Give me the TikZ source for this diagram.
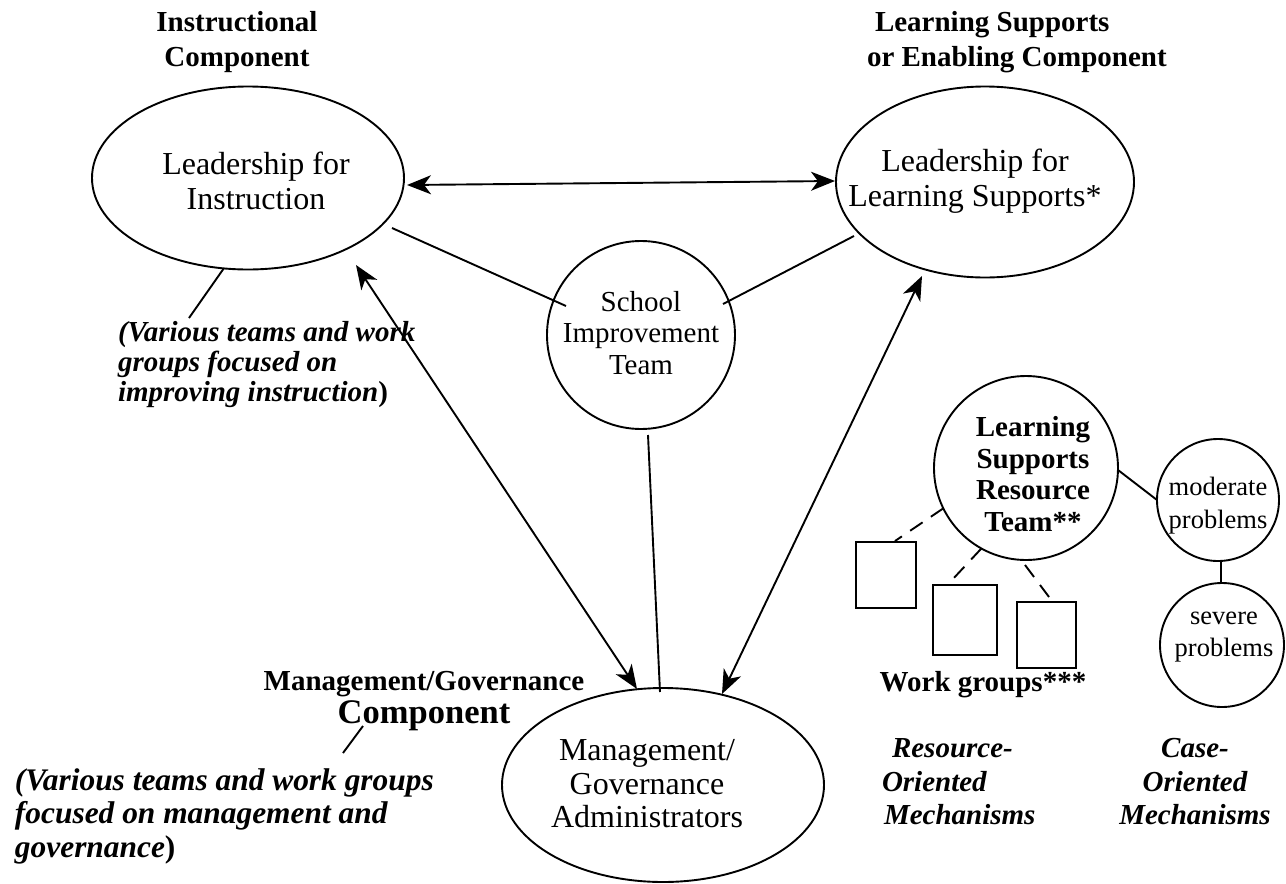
\documentclass[tikz,border=0pt]{standalone}
\usepackage{fontspec}
\setmainfont{Liberation Serif}
\usetikzlibrary{shapes.geometric,arrows.meta,calc}
\newcommand\fsz[2]{\fontsize{#1}{#2}\selectfont}
\begin{document}
\begin{tikzpicture}[x=1pt,y=-1pt,
  every node/.style={inner sep=0pt, outer sep=0pt},
  shapeline/.style={draw, line width=1.9pt},
  ell/.style={shapeline, ellipse},
  conn/.style={line width=1.9pt},
  arr/.style={conn, {Stealth[length=24pt,width=19pt,inset=7pt]}-{Stealth[length=24pt,width=19pt,inset=7pt]}},
  dsh/.style={conn, dash pattern=on 15pt off 10pt},
  txt/.style={align=center},
  lefttxt/.style={align=left, anchor=west}]
\useasboundingbox (0,0) rectangle (1286,884);
% shapes
\node[ell, minimum width=312pt, minimum height=183pt] (instr) at (248,178) {};
\node[ell, minimum width=298pt, minimum height=191pt] (ls) at (985,182) {};
\node[circle, shapeline, minimum size=188pt] (sit) at (641,335) {};
\node[ell, minimum width=322pt, minimum height=194pt] (mg) at (663,785) {};
\node[circle, shapeline, minimum size=184pt] (lsrt) at (1026,468) {};
\node[circle, shapeline, minimum size=122pt] (mod) at (1218,500) {};
\node[circle, shapeline, minimum size=124pt] (sev) at (1222,645) {};
\node[shapeline, minimum width=60pt, minimum height=66pt] (b1) at (886,575) {};
\node[shapeline, minimum width=64pt, minimum height=70pt] (b2) at (965,620) {};
\node[shapeline, minimum width=59pt, minimum height=66pt] (b3) at (1046.5,635) {};
% texts inside shapes
\node[txt, font=\fsz{32}{35}] (instrT) at (256,181) {Leadership for\\Instruction};
\node[txt, font=\fsz{32}{35}] (lsT) at (975,181) {Leadership for\\Learning Supports*};
\node[txt, font=\fsz{29}{31.5}] (sitT) at (641,333) {School\\Improvement\\Team};
\node[txt, font=\fsz{32}{33.5}] (mgT) at (647,784) {Management/\\Governance\\Administrators};
\node[txt, font=\bfseries\fsz{29}{31.5}] (lsrtT) at (1033,474) {Learning\\Supports\\Resource\\Team**};
\node[txt, font=\fsz{26.5}{33}] (modT) at (1218,506) {moderate\\problems};
\node[txt, font=\fsz{26.5}{32}] (sevT) at (1224,637) {severe\\problems};
% headings and notes
\node[txt, font=\bfseries\fsz{29}{35}] (hInstr) at (237,42) {Instructional\\Component};
\node[lefttxt, font=\bfseries\fsz{29}{35}] (hLS) at (867,42) {\hspace*{8pt}Learning Supports\\or Enabling Component};
\node[txt, font=\bfseries\fsz{29}{33}] (hMG) at (424,701) {Management/Governance\\{\fsz{34.5}{33}Component}};
\node[lefttxt, font=\bfseries\itshape\fsz{29}{30}] (instrNote) at (118,365) {(Various teams and work\\groups focused on\\improving instruction{\upshape)}};
\node[lefttxt, font=\bfseries\itshape\fsz{31.4}{33.5}] (mgNote) at (15,816) {(Various teams and work groups\\focused on management and\\governance{\upshape)}};
\node[txt, font=\bfseries\fsz{29}{31}] (wg) at (983,685) {Work groups***};
\node[lefttxt, font=\bfseries\itshape\fsz{29}{33.5}] (rom) at (882,782) {\hspace*{10pt}Resource-\\Oriented\\\hspace*{2pt}Mechanisms};
\node[txt, font=\bfseries\itshape\fsz{29}{33.5}] (com) at (1195,782) {Case-\\Oriented\\Mechanisms};
% leader lines
\coordinate (instrLead) at (189,318);
\draw[conn] (instr.255) -- (instrLead);
\coordinate (mgLeadA) at (363,726);
\coordinate (mgLeadB) at (343,753);
\draw[conn] (mgLeadA) -- (mgLeadB);
% connectors
\draw[conn] ([shift={(144,50)}]instr.center) -- ([shift={(-75,-29)}]sit.center);
\draw[conn] ([shift={(82,-31)}]sit.center) -- ([shift={(-131,54)}]ls.center);
\draw[conn] ([shift={(7,100)}]sit.center) -- ([shift={(-3,-93)}]mg.center);
\draw[arr] ([shift={(159,7)}]instr.center) -- ([shift={(-150,-1)}]ls.center);
\draw[arr] ([shift={(108,87)}]instr.center) -- ([shift={(-26,-96)}]mg.center);
\draw[arr] ([shift={(-63,94)}]ls.center) -- ([shift={(59,-91)}]mg.center);
\draw[conn] ([shift={(0,2)}]lsrt.east) -- (mod.west);
\draw[conn] ([xshift=3pt]mod.south) -- ([xshift=-1pt]sev.north);
\draw[dsh] (lsrt.206) -- ([shift={(9,-1)}]b1.north);
\draw[dsh] (lsrt.241) -- ([shift={(-13,-5)}]b2.north);
\draw[dsh] ([shift={(-1,97)}]lsrt.center) -- ([shift={(5.5,-1)}]b3.north);
\end{tikzpicture}
\end{document}
